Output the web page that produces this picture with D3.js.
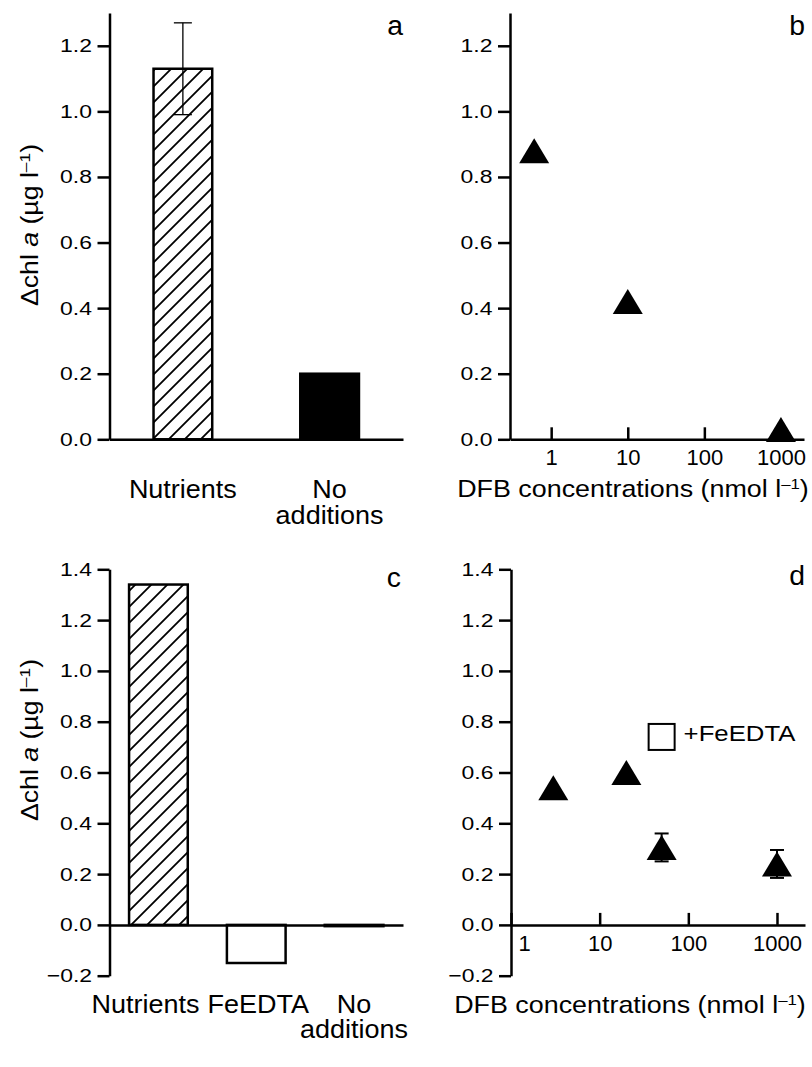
<!DOCTYPE html>
<html>
<head>
<meta charset="utf-8">
<script src="https://cdn.jsdelivr.net/npm/d3@7"></script>
<style>
  body { margin: 0; background: #fff; }
  svg { display: block; }
  text { font-family: "Liberation Sans", Arial, Helvetica, sans-serif; fill: #000; }
</style>
</head>
<body>
<svg id="fig" width="812" height="1067"></svg>
<script>
// ---- data ----
var catsA = ["Nutrients", "No additions"];
var chlA = [1.13, 0.20];
var errA = [0.14, 0];

var dfbB = [0.6, 10, 1000];
var chlB = [0.88, 0.42, 0.03];

var catsC = ["Nutrients", "FeEDTA", "No additions"];
var chlC = [1.34, -0.15, -0.005];

var dfbD = [3, 20, 50, 1000];
var chlD = [0.54, 0.60, 0.305, 0.24];
var errD = [0, 0, 0.055, 0.055];
var dfbFeD = [50];
var chlFeD = [0.74];

var yTicksTop = [0, 0.2, 0.4, 0.6, 0.8, 1.0, 1.2];
var yTicksBottom = [-0.2, 0, 0.2, 0.4, 0.6, 0.8, 1.0, 1.2, 1.4];
var xTicksDFB = [1, 10, 100, 1000];

var svg = d3.select("#fig");

// hatch for the nutrient bars
svg.append("defs").append("pattern")
    .attr("id", "hatch")
    .attr("patternUnits", "userSpaceOnUse")
    .attr("width", 16).attr("height", 16)
  .append("path")
    .attr("d", "M-4,4L4,-4M0,16L16,0M12,20L20,12")
    .attr("stroke", "#000")
    .attr("stroke-width", 1.8);

function barFill(cat) {
  if (cat === "Nutrients") return "url(#hatch)";
  if (cat === "FeEDTA") return "#fff";
  return "#000";
}

// widen text along its own direction (the figure's lettering is wide)
function stretch(sel, k) {
  sel.each(function() {
    var t = d3.select(this);
    var x = +t.attr("x") || 0, y = +t.attr("y") || 0;
    t.attr("transform", "translate(" + x + "," + y + ") scale(" + k + ",1) translate(" + (-x) + "," + (-y) + ")");
  });
}

function styleAxis(g) {
  g.attr("font-size", null).attr("font-family", null);
  g.select(".domain").attr("stroke-width", 2.5);
  g.selectAll(".tick line").attr("stroke-width", 2.5);
}

function drawYAxis(x, y, ticks) {
  var g = svg.append("g")
    .attr("transform", "translate(" + x + ",0)")
    .call(d3.axisLeft(y).tickValues(ticks).tickSize(12).tickPadding(5.5)
      .tickSizeOuter(0).tickFormat(d3.format(".1f")));
  styleAxis(g);
  g.selectAll(".tick text").style("font-size", "18.5px");
  stretch(g.selectAll(".tick text"), 1.24);
}

function drawYLabel(cx, cy) {
  var t = svg.append("g")
    .attr("transform", "translate(" + cx + "," + cy + ") rotate(-90)")
    .append("text")
    .attr("x", 0).attr("y", 0)
    .attr("text-anchor", "middle")
    .style("font-size", "23px");
  t.append("tspan").text("\u0394chl ");
  t.append("tspan").style("font-style", "italic").text("a");
  t.append("tspan").text(" (\u00b5g l");
  t.append("tspan").attr("dy", -8).style("font-size", "15px").text("\u20131");
  t.append("tspan").attr("dy", 8).text(")");
  stretch(t, 1.16);
}

function drawLetter(x, y, s) {
  var t = svg.append("text")
    .attr("x", x).attr("y", y)
    .attr("text-anchor", "end")
    .style("font-size", "27px")
    .text(s);
  stretch(t, 1.05);
}

function drawBars(x, y, cats, vals) {
  svg.append("g").selectAll("rect")
    .data(cats)
    .enter().append("rect")
    .attr("x", function(d) { return x(d); })
    .attr("width", x.bandwidth())
    .attr("y", function(d, i) { return y(Math.max(vals[i], 0)); })
    .attr("height", function(d, i) { return Math.abs(y(vals[i]) - y(0)); })
    .attr("fill", function(d) { return barFill(d); })
    .attr("stroke", "#000")
    .attr("stroke-width", 2.5);
}

function drawCatLabels(x, baseline, lineGap, cats, nudge) {
  cats.forEach(function(c) {
    var lines = c === "No additions" ? ["No", "additions"] : [c];
    lines.forEach(function(s, j) {
      var t = svg.append("text")
        .attr("x", x(c) + x.bandwidth() / 2 + (nudge[c] || 0))
        .attr("y", baseline + j * lineGap)
        .attr("text-anchor", "middle")
        .style("font-size", "25px")
        .text(s);
      stretch(t, 1.08);
    });
  });
}

function drawBandBase(x, yPos) {
  var g = svg.append("g")
    .attr("transform", "translate(0," + yPos + ")")
    .call(d3.axisBottom(x).tickSize(0).tickSizeOuter(0).tickFormat(""));
  styleAxis(g);
  g.selectAll(".tick").remove();
}

function drawLogAxis(x, yPos, labelShiftFirst) {
  var g = svg.append("g")
    .attr("transform", "translate(0," + yPos + ")")
    .call(d3.axisBottom(x).tickValues(xTicksDFB).tickSize(-12)
      .tickSizeOuter(0).tickFormat(d3.format("d")));
  styleAxis(g);
  g.selectAll(".tick text")
    .attr("y", 26).attr("dy", 0)
    .attr("x", function(d) { return d === 1 ? labelShiftFirst : 0; })
    .style("font-size", "22px");
}

function drawXTitle(cx, baseline) {
  var t = svg.append("text")
    .attr("x", cx).attr("y", baseline)
    .attr("text-anchor", "middle")
    .style("font-size", "24px");
  t.append("tspan").text("DFB concentrations (nmol l");
  t.append("tspan").attr("dy", -8).style("font-size", "15px").text("\u20131");
  t.append("tspan").attr("dy", 8).text(")");
  stretch(t, 1.12);
}

function trianglePath() {
  return "M0,-12.5L15,12.5L-15,12.5Z";
}

function drawTriangles(x, y, xs, ys) {
  svg.append("g").selectAll("path")
    .data(xs)
    .enter().append("path")
    .attr("d", trianglePath())
    .attr("transform", function(d, i) { return "translate(" + x(d) + "," + y(ys[i]) + ")"; })
    .attr("fill", "#000");
}

// ---- panel a ----
var xA = d3.scaleBand().domain(catsA).range([109.5, 403]).paddingInner(0.6).paddingOuter(0.3);
var yA = d3.scaleLinear().domain([0, 1.3]).range([439.3, 13]);

drawBars(xA, yA, catsA, chlA);
var errG = svg.append("g").attr("stroke", "#000").attr("stroke-width", 1.3);
catsA.forEach(function(c, i) {
  if (!errA[i]) return;
  var cx = xA(c) + xA.bandwidth() / 2;
  errG.append("line").attr("x1", cx).attr("x2", cx)
    .attr("y1", yA(chlA[i] - errA[i])).attr("y2", yA(chlA[i] + errA[i]));
  [chlA[i] - errA[i], chlA[i] + errA[i]].forEach(function(v) {
    errG.append("line").attr("x1", cx - 9).attr("x2", cx + 9)
      .attr("y1", yA(v)).attr("y2", yA(v));
  });
});
drawBandBase(xA, yA(0));
drawYAxis(109.5, yA, yTicksTop);
drawCatLabels(xA, 498, 26, catsA, {});
drawYLabel(38, 225);
drawLetter(403, 35, "a");

// ---- panel b ----
var xB = d3.scaleLog().domain([0.29, 2000]).range([510, 804]);
var yB = d3.scaleLinear().domain([0, 1.3]).range([439.3, 13]);

drawLogAxis(xB, yB(0), 0);
drawYAxis(510, yB, yTicksTop);
drawTriangles(xB, yB, dfbB, chlB);
drawXTitle(633, 497);
drawLetter(805, 35, "b");

// ---- panel c ----
var xC = d3.scaleBand().domain(catsC).range([109.5, 403]).paddingInner(0.4).paddingOuter(0.2);
var yC = d3.scaleLinear().domain([-0.2, 1.4]).range([975.7, 569.3]);

drawBars(xC, yC, catsC, chlC);
drawBandBase(xC, yC(0));
drawYAxis(109.5, yC, yTicksBottom);
drawCatLabels(xC, 1013, 25, catsC, {"Nutrients": -13, "FeEDTA": 2});
drawYLabel(38, 740);
drawLetter(401, 587, "c");

// ---- panel d ----
var xD = d3.scaleLog().domain([1, 2070]).range([511, 805]);
var yD = d3.scaleLinear().domain([-0.2, 1.4]).range([975.7, 569.3]);

drawLogAxis(xD, yD(0), 13);
drawYAxis(511, yD, yTicksBottom);

var errDG = svg.append("g").attr("stroke", "#000").attr("stroke-width", 2);
dfbD.forEach(function(v, i) {
  if (!errD[i]) return;
  var cx = xD(v);
  errDG.append("line").attr("x1", cx).attr("x2", cx)
    .attr("y1", yD(chlD[i] - errD[i])).attr("y2", yD(chlD[i] + errD[i]));
  [chlD[i] - errD[i], chlD[i] + errD[i]].forEach(function(e) {
    errDG.append("line").attr("x1", cx - 7).attr("x2", cx + 7)
      .attr("y1", yD(e)).attr("y2", yD(e));
  });
});
drawTriangles(xD, yD, dfbD, chlD);

svg.append("g").selectAll("rect")
  .data(dfbFeD)
  .enter().append("rect")
  .attr("x", function(d) { return xD(d) - 13; })
  .attr("y", function(d, i) { return yD(chlFeD[i]) - 13; })
  .attr("width", 26).attr("height", 26)
  .attr("fill", "#fff")
  .attr("stroke", "#000")
  .attr("stroke-width", 2);

dfbFeD.forEach(function(d, i) {
  var t = svg.append("text")
    .attr("x", xD(d) + 22)
    .attr("y", yD(chlFeD[i]) + 4)
    .style("font-size", "22px")
    .text("+FeEDTA");
  stretch(t, 1.17);
});

drawXTitle(630, 1013);
drawLetter(805, 585, "d");
</script>
</body>
</html>
